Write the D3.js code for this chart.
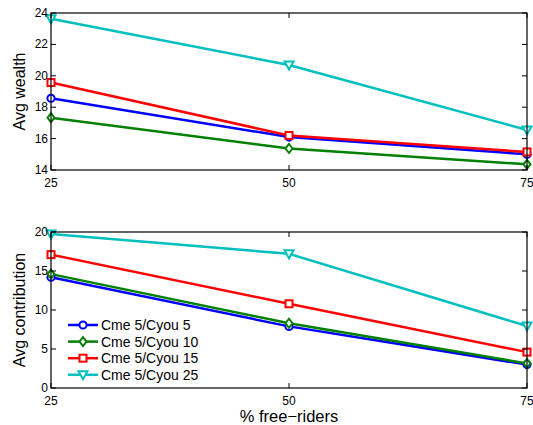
<!DOCTYPE html>
<html>
<head>
<meta charset="utf-8">
<script src="https://cdn.jsdelivr.net/npm/d3@7"></script>
<style>
body { margin: 0; background: white; }
text { font-family: "Liberation Sans", Arial, sans-serif; fill: #000; }
</style>
</head>
<body>
<div id="chart"></div>
<script>
// free-rider percentages on the x axis
var freeRiders = [25, 50, 75];

var seriesNames = ["Cme 5/Cyou 5", "Cme 5/Cyou 10", "Cme 5/Cyou 15", "Cme 5/Cyou 25"];
var seriesColors = ["#0000ff", "#008000", "#ff0000", "#00bfbf"];
var seriesMarkers = ["circle", "diamond", "square", "triangle"];

// top panel: average wealth
var wealth5 = [18.57, 16.1, 15.0];
var wealth10 = [17.33, 15.37, 14.36];
var wealth15 = [19.57, 16.2, 15.15];
var wealth25 = [23.63, 20.69, 16.55];

// bottom panel: average contribution
var contrib5 = [14.2, 7.9, 3.0];
var contrib10 = [14.6, 8.3, 3.15];
var contrib15 = [17.1, 10.8, 4.6];
var contrib25 = [19.75, 17.2, 7.95];

var wealthTicks = [14, 16, 18, 20, 22, 24];
var contribTicks = [0, 5, 10, 15, 20];

var W = 533, H = 425;
var svg = d3.select("#chart").append("svg")
    .attr("width", W).attr("height", H)
    .style("background-color", "white");

var x = d3.scaleLinear().domain([25, 75]).range([51, 527]);

/**
  * Draws a marker of a given kind at (cx, cy).
  */
function marker(g, kind, cx, cy, color){
    if (kind == "circle"){
        g.append("circle").attr("cx", cx).attr("cy", cy).attr("r", 3.6)
            .attr("fill", "white").attr("stroke", color).attr("stroke-width", 2);
    } else if (kind == "diamond"){
        g.append("path").attr("d", "M" + cx + "," + (cy - 4.5) + "L" + (cx + 3.5) + "," + cy +
            "L" + cx + "," + (cy + 4.5) + "L" + (cx - 3.5) + "," + cy + "Z")
            .attr("fill", "white").attr("stroke", color).attr("stroke-width", 2);
    } else if (kind == "square"){
        g.append("rect").attr("x", cx - 3.5).attr("y", cy - 3.5).attr("width", 7).attr("height", 7)
            .attr("fill", "white").attr("stroke", color).attr("stroke-width", 2);
    } else {
        g.append("path").attr("d", "M" + (cx - 4.5) + "," + (cy - 3.5) + "L" + (cx + 4.5) + "," + (cy - 3.5) +
            "L" + cx + "," + (cy + 4.5) + "Z")
            .attr("fill", "white").attr("stroke", color).attr("stroke-width", 2);
    }
}

/**
  * Draws one boxed panel with its series.
  */
function panel(top, bottom, domain, ticks, allSeries, ylabel){
    var y = d3.scaleLinear().domain(domain).range([bottom, top]);
    var g = svg.append("g");

    var line = d3.line().x(function(d, i){ return x(freeRiders[i]); }).y(function(d){ return y(d); });
    for (var s = 0; s < allSeries.length; s++){
        g.append("path").datum(allSeries[s])
            .attr("d", line)
            .attr("fill", "none")
            .attr("stroke", seriesColors[s])
            .attr("stroke-width", 2.5);
    }
    for (var s = 0; s < allSeries.length; s++){
        for (var i = 0; i < freeRiders.length; i++){
            marker(g, seriesMarkers[s], x(freeRiders[i]), y(allSeries[s][i]), seriesColors[s]);
        }
    }

    // box
    g.append("rect").attr("x", x.range()[0]).attr("y", top)
        .attr("width", x.range()[1] - x.range()[0]).attr("height", bottom - top)
        .attr("fill", "none").attr("stroke", "#000").attr("stroke-width", 1.2);

    // y ticks, left and right, pointing inward
    ticks.forEach(function(t){
        g.append("line").attr("x1", x.range()[0]).attr("x2", x.range()[0] + 5)
            .attr("y1", y(t)).attr("y2", y(t)).attr("stroke", "#000");
        g.append("line").attr("x1", x.range()[1]).attr("x2", x.range()[1] - 5)
            .attr("y1", y(t)).attr("y2", y(t)).attr("stroke", "#000");
        g.append("text").attr("x", x.range()[0] - 3).attr("y", y(t) + 4)
            .attr("text-anchor", "end").style("font-size", "12px").text(t);
    });
    // x ticks, bottom and top
    freeRiders.forEach(function(v){
        g.append("line").attr("x1", x(v)).attr("x2", x(v))
            .attr("y1", bottom).attr("y2", bottom - 5).attr("stroke", "#000");
        g.append("line").attr("x1", x(v)).attr("x2", x(v))
            .attr("y1", top).attr("y2", top + 5).attr("stroke", "#000");
        g.append("text").attr("x", x(v)).attr("y", bottom + 17)
            .attr("text-anchor", "middle").style("font-size", "12px").text(v);
    });

    g.append("text")
        .attr("transform", "translate(25," + ((top + bottom) / 2) + ") rotate(-90)")
        .attr("text-anchor", "middle").style("font-size", "16px").text(ylabel);
    return g;
}

panel(13, 170, [14, 24], wealthTicks, [wealth5, wealth10, wealth15, wealth25], "Avg wealth");
var bottomPanel = panel(232, 388, [0, 20], contribTicks, [contrib5, contrib10, contrib15, contrib25], "Avg contribution");

svg.append("text").attr("x", x(50)).attr("y", 422)
    .attr("text-anchor", "middle").style("font-size", "16.5px").text("% free\u2212riders");

// legend
var legend = svg.append("g");
legend.append("rect").attr("x", 60).attr("y", 312).attr("width", 140).attr("height", 74)
    .attr("fill", "white");
seriesNames.forEach(function(name, i){
    var ly = 325 + i * 16.6;
    legend.append("line").attr("x1", 68).attr("x2", 98).attr("y1", ly).attr("y2", ly)
        .attr("stroke", seriesColors[i]).attr("stroke-width", 2.5);
    marker(legend, seriesMarkers[i], 83, ly, seriesColors[i]);
    legend.append("text").attr("x", 101).attr("y", ly + 5)
        .style("font-size", "14px").text(name);
});
</script>
</body>
</html>
